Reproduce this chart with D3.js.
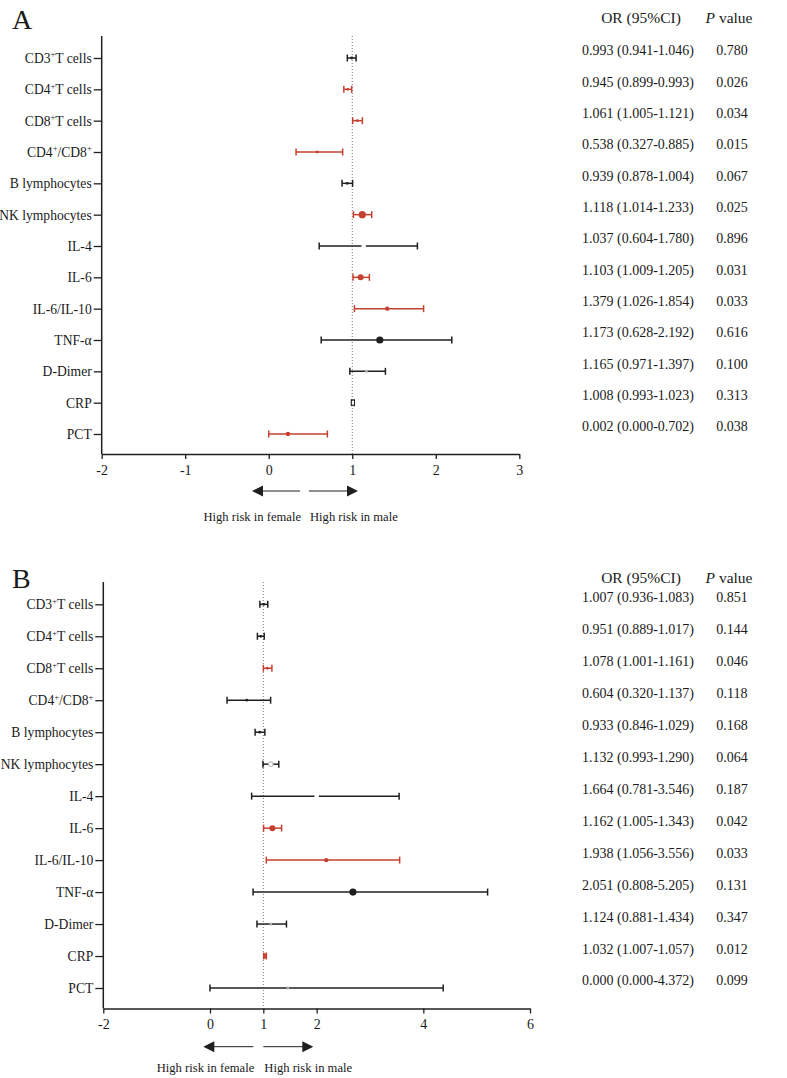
<!DOCTYPE html>
<html lang="en">
<head>
<meta charset="UTF-8">
<title>Forest plot by sex</title>
<script src="https://d3js.org/d3.v7.min.js"></script>
<style>
  body { margin: 0; background: #fff; }
  svg text { font-family: "Liberation Serif", "Times New Roman", serif; fill: #1a1a1a; }
</style>
</head>
<body>
<svg id="chart" width="787" height="1078"></svg>
<script>
// row labels, "^+" marks a superscript plus
const categories = ["CD3^+T cells", "CD4^+T cells", "CD8^+T cells", "CD4^+/CD8^+", "B lymphocytes",
  "NK lymphocytes", "IL-4", "IL-6", "IL-6/IL-10", "TNF-α", "D-Dimer", "CRP", "PCT"];

// panel A (plotted point, CI from the table)
const estA  = [0.993, 0.945, 1.061, 0.58, 0.939, 1.12, 1.137, 1.10, 1.418, 1.33, 1.17, 1.008, 0.23];
const lowA  = [0.941, 0.899, 1.005, 0.327, 0.878, 1.014, 0.604, 1.009, 1.026, 0.628, 0.971, 0.993, 0.000];
const highA = [1.046, 0.993, 1.121, 0.885, 1.004, 1.233, 1.780, 1.205, 1.854, 2.192, 1.397, 1.023, 0.702];
const orTextA = ["0.993 (0.941-1.046)", "0.945 (0.899-0.993)", "1.061 (1.005-1.121)", "0.538 (0.327-0.885)",
  "0.939 (0.878-1.004)", "1.118 (1.014-1.233)", "1.037 (0.604-1.780)", "1.103 (1.009-1.205)",
  "1.379 (1.026-1.854)", "1.173 (0.628-2.192)", "1.165 (0.971-1.397)", "1.008 (0.993-1.023)",
  "0.002 (0.000-0.702)"];
const pA = ["0.780", "0.026", "0.034", "0.015", "0.067", "0.025", "0.896", "0.031", "0.033", "0.616", "0.100", "0.313", "0.038"];
const ticksA = [-2, -1, 0, 1, 2, 3];

// panel B
const estB  = [1.007, 0.951, 1.078, 0.69, 0.933, 1.14, 2.0, 1.17, 2.18, 2.68, 1.14, 1.032, 1.46];
const lowB  = [0.936, 0.889, 1.001, 0.320, 0.846, 0.993, 0.781, 1.005, 1.056, 0.808, 0.881, 1.007, 0.000];
const highB = [1.083, 1.017, 1.161, 1.137, 1.029, 1.290, 3.546, 1.343, 3.556, 5.205, 1.434, 1.057, 4.372];
const orTextB = ["1.007 (0.936-1.083)", "0.951 (0.889-1.017)", "1.078 (1.001-1.161)", "0.604 (0.320-1.137)",
  "0.933 (0.846-1.029)", "1.132 (0.993-1.290)", "1.664 (0.781-3.546)", "1.162 (1.005-1.343)",
  "1.938 (1.056-3.556)", "2.051 (0.808-5.205)", "1.124 (0.881-1.434)", "1.032 (1.007-1.057)",
  "0.000 (0.000-4.372)"];
const pB = ["0.851", "0.144", "0.046", "0.118", "0.168", "0.064", "0.187", "0.042", "0.033", "0.131", "0.347", "0.012", "0.099"];
const ticksB = [-2, 0, 1, 2, 4, 6];

const RED = "#c5412f", BLACK = "#1f1f1f";
const svg = d3.select("#chart");

// write "CD3^+T cells" style labels with raised plus signs
function richText(sel, str) {
  let raised = false;
  str.split(/(\^\+)/).forEach(part => {
    if (part === "^+") { sel.append("tspan").attr("font-size", 8.5).attr("dy", -5.5).text("+"); raised = true; }
    else if (part) {
      const t = sel.append("tspan").text(part);
      if (raised) { t.attr("dy", 5.5); raised = false; }
    }
  });
}

function drawPanel(cfg) {
  const { letter, est, low, high, orText, pv, ticks, markers } = cfg;
  const x = d3.scaleLinear().domain([ticks[0], ticks[ticks.length - 1]]).range(cfg.xRange);
  const y = d3.scalePoint().domain(categories).range(cfg.yRange);
  const g = svg.append("g");

  // panel letter
  g.append("text").attr("x", 12).attr("y", cfg.letterY).attr("font-size", 28).text(letter);

  // reference line at OR = 1
  g.append("line").attr("x1", x(1)).attr("x2", x(1)).attr("y1", cfg.yTop).attr("y2", cfg.axisY)
    .attr("stroke", "#777").attr("stroke-width", 1).attr("stroke-dasharray", "1,2");

  // y axis
  const ya = g.append("g").attr("transform", `translate(${cfg.xRange[0]},0)`)
    .call(d3.axisLeft(y).tickSize(8).tickPadding(2).tickFormat(""));
  ya.select(".domain").remove();
  ya.selectAll(".tick line").attr("stroke", BLACK).attr("stroke-width", 1.3);
  ya.selectAll(".tick text").each(function (d) {
    const t = d3.select(this).attr("font-size", 13.6).attr("fill", BLACK).attr("dy", "0.32em");
    richText(t, d);
  });
  g.append("line").attr("x1", cfg.xRange[0]).attr("x2", cfg.xRange[0]).attr("y1", cfg.yTop).attr("y2", cfg.axisY)
    .attr("stroke", BLACK).attr("stroke-width", 1.5);

  // x axis
  const xa = g.append("g").attr("transform", `translate(0,${cfg.axisY})`)
    .call(d3.axisBottom(x).tickValues(ticks).tickSize(5).tickPadding(6).tickSizeOuter(0).tickFormat(d => String(d)));
  xa.select(".domain").attr("stroke", BLACK).attr("stroke-width", 1.5);
  xa.selectAll(".tick line").attr("stroke", BLACK).attr("stroke-width", 1.3);
  xa.selectAll(".tick text").attr("font-size", 14).attr("fill", BLACK).attr("font-family", "Liberation Serif");

  // error bars
  categories.forEach((c, i) => {
    const col = parseFloat(pv[i]) < 0.05 ? RED : BLACK;
    const yy = y(c);
    const row = g.append("g");
    row.append("line").attr("x1", x(low[i])).attr("x2", x(high[i])).attr("y1", yy).attr("y2", yy)
      .attr("stroke", col).attr("stroke-width", 1.5);
    [low[i], high[i]].forEach(v => row.append("line").attr("x1", x(v)).attr("x2", x(v))
      .attr("y1", yy - 3.5).attr("y2", yy + 3.5).attr("stroke", col).attr("stroke-width", 1.5));

    const m = markers[i], px = x(est[i]);
    if (m === "big") row.append("circle").attr("cx", px).attr("cy", yy).attr("r", 3.6).attr("fill", col);
    else if (m === "dot") row.append("circle").attr("cx", px).attr("cy", yy).attr("r", 3).attr("fill", col);
    else if (m === "small") row.append("circle").attr("cx", px).attr("cy", yy).attr("r", 2.2).attr("fill", col);
    else if (m === "tiny") row.append("circle").attr("cx", px).attr("cy", yy).attr("r", 1.4).attr("fill", col);
    else if (m === "grey") row.append("circle").attr("cx", px).attr("cy", yy).attr("r", 1.5).attr("fill", "#aaa");
    else if (m === "ring") row.append("circle").attr("cx", px).attr("cy", yy).attr("r", 2.4)
      .attr("fill", "#fff").attr("stroke", "#aaa").attr("stroke-width", 1);
    else if (m === "gap") row.append("rect").attr("x", px - 2.2).attr("y", yy - 2).attr("width", 4.4).attr("height", 4).attr("fill", "#fff");
    else if (m === "square") row.append("rect").attr("x", px - 1.6).attr("y", yy - 2.5).attr("width", 3.2).attr("height", 5)
      .attr("fill", "#fff").attr("stroke", col).attr("stroke-width", 1);
    else if (m === "rsq") row.append("rect").attr("x", px - 2).attr("y", yy - 2.5).attr("width", 4).attr("height", 5).attr("fill", col);
  });

  // direction arrows and captions
  const ar = cfg.arrows;
  const arrow = g.append("g").attr("stroke", BLACK).attr("fill", BLACK);
  arrow.append("line").attr("x1", ar.l1 + 10).attr("x2", ar.l2).attr("y1", ar.y).attr("y2", ar.y).attr("stroke-width", 1);
  arrow.append("path").attr("d", `M${ar.l1},${ar.y}L${ar.l1 + 11},${ar.y - 5.5}L${ar.l1 + 11},${ar.y + 5.5}Z`).attr("stroke", "none");
  arrow.append("line").attr("x1", ar.r1).attr("x2", ar.r2 - 10).attr("y1", ar.y).attr("y2", ar.y).attr("stroke-width", 1);
  arrow.append("path").attr("d", `M${ar.r2},${ar.y}L${ar.r2 - 11},${ar.y - 5.5}L${ar.r2 - 11},${ar.y + 5.5}Z`).attr("stroke", "none");
  g.append("text").attr("x", ar.l2 + 1).attr("y", ar.textY).attr("text-anchor", "end").attr("font-size", 12.6).text("High risk in female");
  g.append("text").attr("x", ar.r1 + 1).attr("y", ar.textY).attr("font-size", 12.6).text("High risk in male");

  // table columns
  const tb = g.append("g").attr("font-size", 14);
  tb.append("text").attr("x", 641).attr("y", cfg.headY).attr("text-anchor", "middle").attr("dy", "0.32em")
    .attr("font-size", 15.5).text("OR (95%CI)");
  const ph = tb.append("text").attr("x", 729).attr("y", cfg.headY).attr("text-anchor", "middle").attr("dy", "0.32em")
    .attr("font-size", 15.5);
  ph.append("tspan").attr("font-style", "italic").text("P");
  ph.append("tspan").text(" value");
  categories.forEach((c, i) => {
    tb.append("text").attr("x", 638).attr("y", y(c) - 7).attr("text-anchor", "middle").attr("dy", "0.32em").text(orText[i]);
    tb.append("text").attr("x", 732).attr("y", y(c) - 7).attr("text-anchor", "middle").attr("dy", "0.32em").text(pv[i]);
  });
}

drawPanel({
  letter: "A", letterY: 29, est: estA, low: lowA, high: highA, orText: orTextA, pv: pA, ticks: ticksA,
  markers: ["tiny", "tiny", "tiny", "tiny", "tiny", "big", "gap", "dot", "small", "big", "grey", "square", "small"],
  xRange: [101.7, 519.3], yRange: [58, 434], yTop: 36, axisY: 454, headY: 18,
  arrows: { y: 491, l1: 252, l2: 300, r1: 309, r2: 358, textY: 521 }
});

drawPanel({
  letter: "B", letterY: 588, est: estB, low: lowB, high: highB, orText: orTextB, pv: pB, ticks: ticksB,
  markers: ["tiny", "tiny", "tiny", "tiny", "tiny", "ring", "gap", "dot", "small", "big", "grey", "rsq", "grey"],
  xRange: [103.3, 530], yRange: [604.3, 988], yTop: 582, axisY: 1008.5, headY: 578,
  arrows: { y: 1046.7, l1: 203.3, l2: 253.3, r1: 263.3, r2: 313.3, textY: 1072 }
});
</script>
</body>
</html>
